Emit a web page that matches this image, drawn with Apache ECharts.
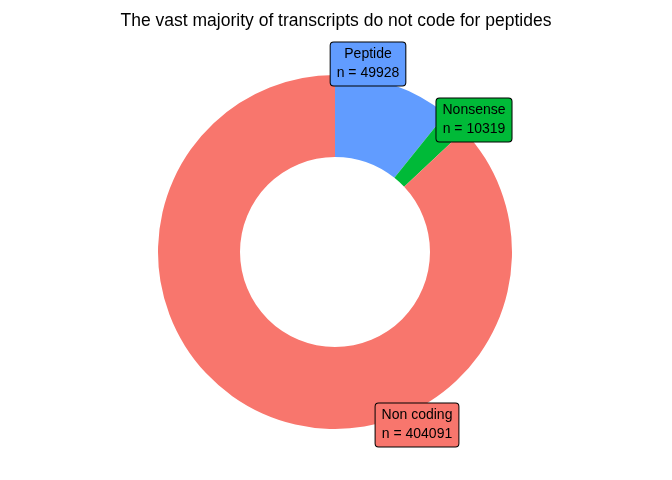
<!DOCTYPE html>
<html>
<head>
<meta charset="utf-8">
<script src="https://cdn.jsdelivr.net/npm/echarts@6/dist/echarts.min.js"></script>
<style>
  html, body { margin: 0; padding: 0; background: #fff; }
  #chart { width: 672px; height: 480px; }
</style>
</head>
<body>
<div id="chart"></div>
<script>
const categories = ['Peptide', 'Nonsense', 'Non coding'];
const counts = [49928, 10319, 404091];
const colors = ['#619CFF', '#00BA38', '#F8766D'];
// where the repelled labels sit (box centres, px)
const labelSpots = [[368, 64], [474, 120], [417, 425]];

let chart = echarts.init(document.getElementById('chart'), null, { renderer: 'canvas' });

let pieData = categories.map((name, i) => {
  return {
    name: name,
    value: counts[i],
    itemStyle: { color: colors[i] },
    label: { backgroundColor: colors[i] }
  };
});

let options = {
  animation: false,
  title: {
    text: 'The vast majority of transcripts do not code for peptides',
    left: 'center',
    top: 7,
    textStyle: {
      fontFamily: 'Liberation Sans, Arial, sans-serif',
      fontSize: 17.5,
      fontWeight: 'normal',
      color: '#000'
    }
  },
  series: [{
    type: 'pie',
    center: [335, 252],
    radius: [95, 177],
    startAngle: 90,
    clockwise: true,
    silent: true,
    itemStyle: { borderWidth: 0 },
    labelLine: { show: false },
    label: {
      show: true,
      position: 'outside',
      formatter: '{b}\nn = {c}',
      fontFamily: 'Liberation Sans, Arial, sans-serif',
      fontSize: 14,
      lineHeight: 19,
      color: '#000',
      align: 'center',
      borderColor: '#000',
      borderWidth: 1,
      borderRadius: 3,
      padding: [3, 6, 2, 6]
    },
    labelLayout: function(params) {
      let spot = labelSpots[params.dataIndex];
      return {
        x: spot[0],
        y: spot[1],
        align: 'center',
        verticalAlign: 'middle'
      };
    },
    data: pieData
  }]
};

chart.setOption(options);
</script>
</body>
</html>
